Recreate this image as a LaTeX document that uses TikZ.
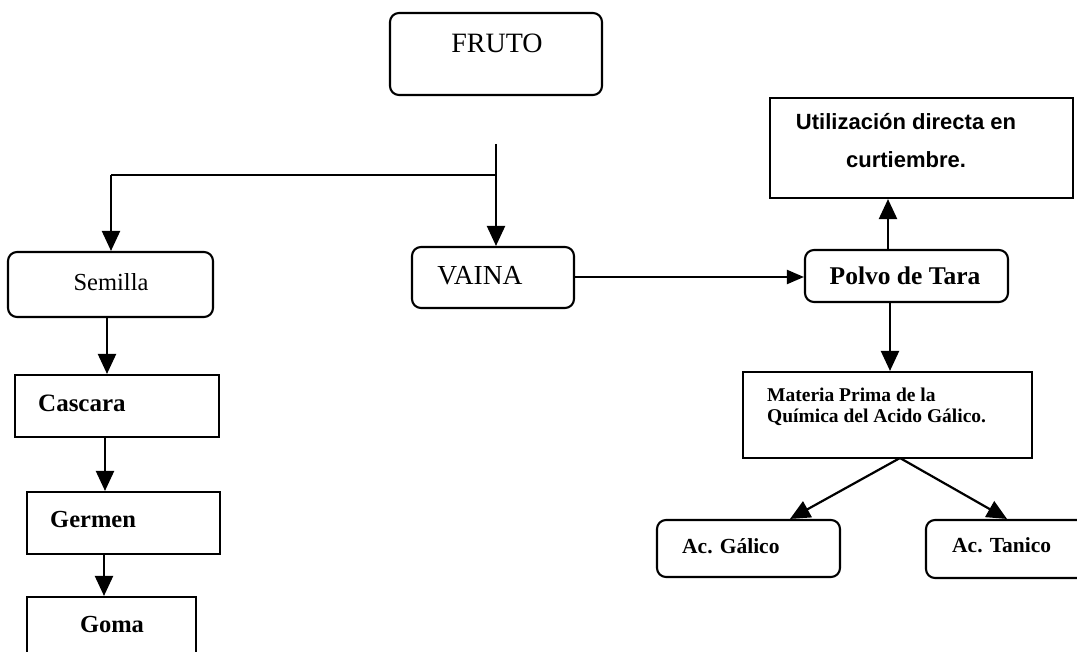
\documentclass[tikz,border=0pt]{standalone}
\usepackage{fontspec}
\setmainfont{Liberation Serif}
\newfontfamily\heavysans{Liberation Sans}
\usetikzlibrary{arrows.meta}
\tikzset{
  box/.style={draw, line width=2.1pt, inner sep=0pt},
  rbox/.style={box, rounded corners=9pt},
  lbl/.style={inner sep=0pt},
  conn/.style={line width=2.2pt, -{Triangle[width=18pt,length=20pt]}},
  sconn/.style={line width=2pt, -{Triangle[width=14pt,length=17pt]}},
}
\newcommand{\bx}[6]{\node[#1, minimum width=#4pt, minimum height=#5pt] (#6) at (#2,#3) {};}
\begin{document}
\begin{tikzpicture}[x=1pt,y=-1pt]
\useasboundingbox (0,0) rectangle (1077,652);
% boxes
\bx{rbox}{496}{54}{212}{82}{fruto}
\bx{rbox}{110.5}{284.5}{205}{65}{semilla}
\bx{box}{117}{406}{204}{62}{cascara}
\bx{box}{123.5}{523}{193}{62}{germen}
\bx{box}{111.5}{631}{169}{68}{goma}
\bx{rbox}{493}{277.5}{162}{61}{vaina}
\bx{rbox}{906.5}{276}{203}{52}{polvo}
\bx{box}{921.5}{148}{303}{100}{util}
\bx{box}{887.5}{415}{289}{86}{materia}
\bx{rbox}{748.5}{548.5}{183}{57}{galico}
\bx{rbox}{1008}{549}{164}{58}{tanico}
% texts
\node[lbl, anchor=base] (tfruto) at (497,53) {\fontsize{28}{30}\selectfont FRUTO};
\node[lbl, anchor=base] (tsemilla) at (111,291) {\fontsize{24.5}{28}\selectfont Semilla};
\node[lbl, anchor=base west] (tcascara) at (38,412) {\fontsize{25}{28}\selectfont\bfseries Cascara};
\node[lbl, anchor=base west] (tgermen) at (50,527) {\fontsize{24.5}{28}\selectfont\bfseries Germen};
\node[lbl, anchor=base] (tgoma) at (112,632) {\fontsize{24.5}{28}\selectfont\bfseries Goma};
\node[lbl, anchor=base] (tvaina) at (480,285) {\fontsize{27.5}{30}\selectfont VAINA};
\node[lbl, anchor=base] (tpolvo) at (905,285) {\fontsize{25.5}{28}\selectfont\bfseries Polvo de Tara};
\node[lbl, anchor=base] (tutil1) at (906,130) {\heavysans\fontsize{22}{24}\selectfont\bfseries Utilización directa en};
\node[lbl, anchor=base] (tutil2) at (906,168) {\heavysans\fontsize{22}{24}\selectfont\bfseries curtiembre.};
\node[lbl, anchor=base west] (tmat1) at (767,402) {\fontsize{19.5}{20}\selectfont\bfseries Materia Prima de la};
\node[lbl, anchor=base west] (tmat2) at (767,423) {\fontsize{19.5}{20}\selectfont\bfseries Química del Acido Gálico.};
\node[lbl, anchor=base west] (tgal) at (682,553) {\fontsize{21.5}{24}\selectfont\bfseries Ac. Gálico};
\node[lbl, anchor=base west] (ttan) at (952,552) {\fontsize{21.5}{24}\selectfont\bfseries Ac. Tanico};
% connectors
\coordinate (top) at (496,144);
\coordinate (junc) at (496,175);
\coordinate (left) at (111,175);
\draw[conn] (top) -- (top |- vaina.north);
\draw[line width=2.2pt] (junc) -- (left);
\draw[conn] (left) -- (left |- semilla.north);
\coordinate (c1) at (107,0);
\draw[conn] (c1 |- semilla.south) -- (c1 |- cascara.north);
\coordinate (c2) at (105,0);
\draw[conn] (c2 |- cascara.south) -- (c2 |- germen.north);
\coordinate (c3) at (104,0);
\draw[conn] (c3 |- germen.south) -- (c3 |- goma.north);
\draw[sconn] (vaina.east |- 0,277) -- (polvo.west |- 0,277);
\coordinate (c4) at (888,0);
\draw[conn] (c4 |- polvo.north) -- (c4 |- util.south);
\coordinate (c5) at (890,0);
\draw[conn] (c5 |- polvo.south) -- (c5 |- materia.north);
\coordinate (msrc) at (900,458);
\coordinate (gtip) at (790,0);
\coordinate (ttip) at (1007,0);
\draw[conn] (msrc) -- (gtip |- galico.north);
\draw[conn] (msrc) -- (ttip |- tanico.north);
\end{tikzpicture}
\end{document}
